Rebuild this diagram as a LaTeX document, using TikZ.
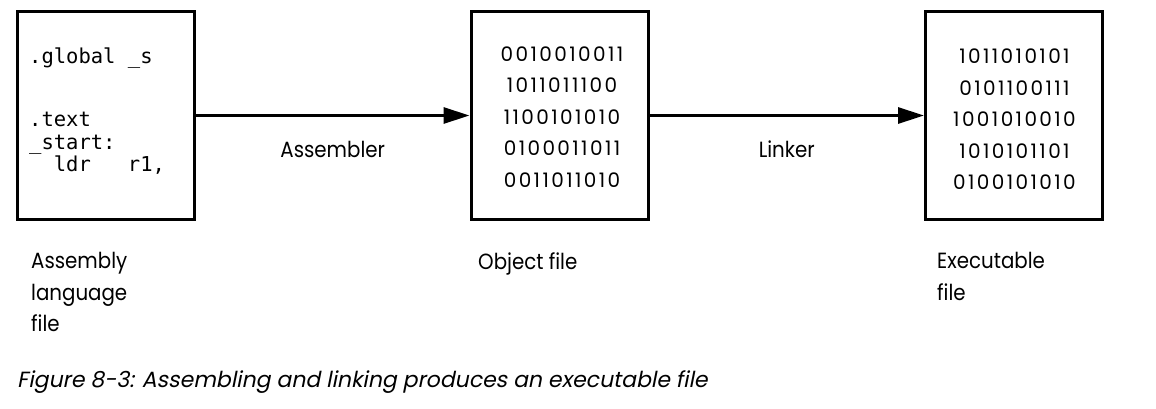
\documentclass[tikz,border=0pt]{standalone}
\usepackage{fontspec}
\setmainfont{Poppins}
\newfontfamily\labelfont{Poppins}[FakeStretch=0.9]
\newfontfamily\codefont{DejaVu Sans Mono}
\newfontfamily\bitsfont{Poppins}[LetterSpace=12]
\newfontfamily\captfont{Poppins}[FakeSlant=0.2]
\usetikzlibrary{arrows.meta,positioning}
\tikzset
{
  filebox/.style   = {draw=black, line width=3pt, minimum width=177pt, minimum height=208pt, inner sep=0pt},
  codetext/.style  = {font=\codefont\fontsize{20.5}{22.3}\selectfont, align=left, anchor=north west, inner sep=0pt},
  bitstext/.style  = {font=\bitsfont\fontsize{20}{31.5}\selectfont, align=center, inner sep=0pt},
  steplabel/.style = {font=\labelfont\fontsize{22}{28}\selectfont, anchor=base, inner sep=0pt},
  filelabel/.style = {font=\labelfont\fontsize{22}{31.5}\selectfont, align=left, anchor=north west, inner sep=0pt},
  flow/.style      = {-{Triangle[length=26pt,width=16pt]}, line width=3pt}
}

\begin{document}
\begin{tikzpicture}[x=1pt, y=-1pt]
  \useasboundingbox (0,0) rectangle (1156,408);
  % the three files
  \node [filebox] (asm) at (106,115.5) {};
  \node [filebox] (obj) at (559.5,115.5) {};
  \node [filebox] (exe) at (1014,115.5) {};
  % contents
  \node [codetext] (code) at (29,47.4)
    {.global \textunderscore s\\[41.4pt]
     .text\\
     \textunderscore start:\\
     \phantom{xx}ldr\phantom{xxx}r1,};
  \node [bitstext] (objbits) at (562,117)
    {0010010011\\1011011100\\1100101010\\0100011011\\0011011010};
  \node [bitstext] (exebits) at (1014.5,119.5)
    {1011010101\\0101100111\\1001010010\\1010101101\\0100101010};
  % steps
  \draw [flow] (asm) -- node [steplabel, yshift=-41.5pt] (assembler) {Assembler} (obj);
  \draw [flow] (obj) -- node [steplabel, yshift=-41.5pt] (linker) {Linker} (exe);
  % names of the files
  \node [filelabel] (asmname) at (31,252.5) {Assembly\\language\\file};
  \node [filelabel] (objname) at (478,252.5) {Object file};
  \node [filelabel] (exename) at (937,252.5) {Executable\\file};
  % caption
  \node [anchor=base west, inner sep=0pt, font=\captfont\fontsize{22}{26}\selectfont] (caption) at (17,387)
    {Figure 8-3: Assembling and linking produces an executable file};
\end{tikzpicture}
\end{document}
